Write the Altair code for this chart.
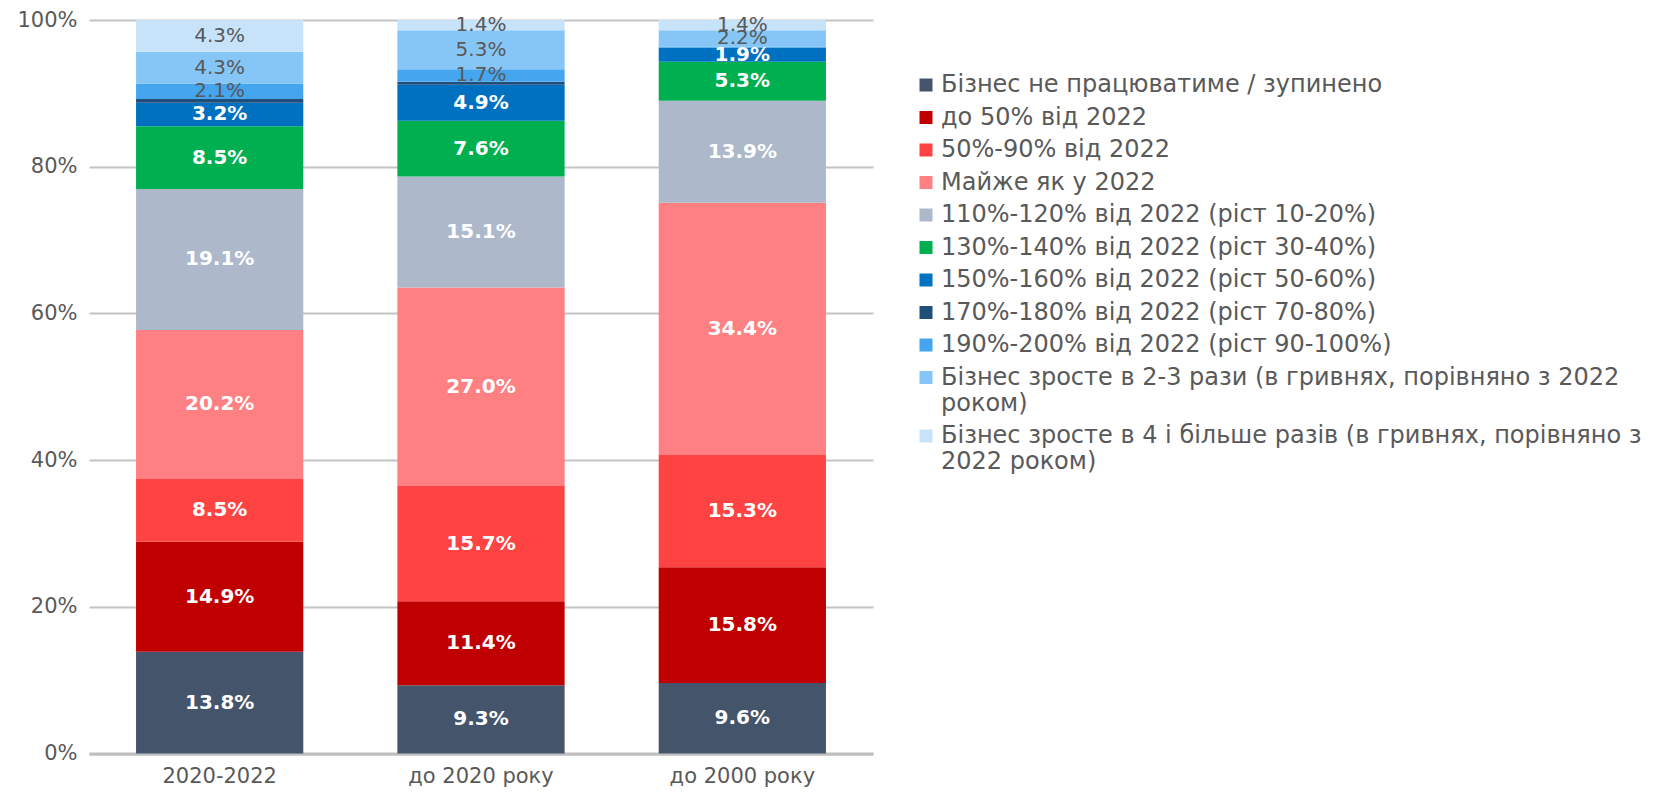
import altair as alt
import pandas as pd

bars = ["2020-2022", "до 2020 року", "до 2000 року"]
categories = [
    "Бізнес не працюватиме / зупинено",
    "до 50% від 2022",
    "50%-90% від 2022",
    "Майже як у 2022",
    "110%-120% від 2022 (ріст 10-20%)",
    "130%-140% від 2022 (ріст 30-40%)",
    "150%-160% від 2022 (ріст 50-60%)",
    "170%-180% від 2022 (ріст 70-80%)",
    "190%-200% від 2022 (ріст 90-100%)",
    "Бізнес зросте в 2-3 рази (в гривнях, порівняно з 2022\nроком)",
    "Бізнес зросте  в 4 і більше разів (в гривнях, порівняно з\n2022 роком)",
]
colors = [
    "#44546a", "#c00000", "#ff4343", "#ff8082", "#adb9ca", "#00b050",
    "#0070c0", "#1f4e79", "#45a6ef", "#86c6f6", "#c6e3fa",
]
values_2020_2022 = [13.8, 14.9, 8.5, 20.2, 19.1, 8.5, 3.2, 0.5, 2.1, 4.3, 4.3]
values_do_2020 = [9.3, 11.4, 15.7, 27.0, 15.1, 7.6, 4.9, 0.4, 1.7, 5.3, 1.4]
values_do_2000 = [9.6, 15.8, 15.3, 34.4, 13.9, 5.3, 1.9, 0.0, 0.2, 2.2, 1.4]

rows = []
for b, vals in zip(bars, [values_2020_2022, values_do_2020, values_do_2000]):
    for i, (c, v) in enumerate(zip(categories, vals)):
        rows.append({"bar": b, "cat": c, "idx": i, "value": v})
df = pd.DataFrame(rows)

FONT = "DejaVu Sans"
GRAY = "#595959"

base = alt.Chart(df).transform_stack(
    stack="value",
    groupby=["bar"],
    as_=["y0", "y1"],
    sort=[alt.SortField("idx", order="ascending")],
    offset="normalize",
).transform_calculate(
    mid="(datum.y0 + datum.y1) / 2",
    label="format(datum.value, '.1f') + '%'",
)

x_enc = alt.X(
    "bar:N",
    sort=bars,
    scale=alt.Scale(paddingInner=0.36, paddingOuter=0.18),
    axis=alt.Axis(
        title=None, labelAngle=0, labelFont=FONT, labelFontSize=21,
        labelColor=GRAY, ticks=False, domain=True, domainColor="#bfbfbf",
        domainWidth=3, labelPadding=12, grid=False,
    ),
)

bar_layer = base.mark_bar().encode(
    x=x_enc,
    y=alt.Y(
        "y0:Q",
        scale=alt.Scale(domain=[0, 1]),
        axis=alt.Axis(
            title=None, format=".0%", values=[0, 0.2, 0.4, 0.6, 0.8, 1.0],
            labelFont=FONT, labelFontSize=21, labelColor=GRAY, ticks=False,
            domain=False, gridColor="#c4c4c4", gridWidth=2, labelPadding=12,
        ),
    ),
    y2="y1:Q",
    color=alt.Color(
        "cat:N",
        scale=alt.Scale(domain=categories, range=colors),
        legend=alt.Legend(
            title=None, orient="none", legendX=825, legendY=53,
            labelExpr="split(datum.label, '\\n')",
            labelFont=FONT, labelFontSize=24, labelColor=GRAY,
            labelLimit=1000, symbolType="square", symbolSize=169,
            symbolStrokeWidth=0, rowPadding=8.5, labelOffset=3, padding=0,
        ),
    ),
)

white_labels = base.transform_filter("datum.idx < 8 && datum.value >= 1").mark_text(
    font=FONT, fontSize=20, fontWeight="bold", color="white"
).encode(x=alt.X("bar:N", sort=bars), y="mid:Q", text="label:N")

gray_labels = base.transform_filter("datum.idx >= 8 && datum.value >= 1").mark_text(
    font=FONT, fontSize=20, color=GRAY
).encode(x=alt.X("bar:N", sort=bars), y="mid:Q", text="label:N")

chart = alt.layer(bar_layer, white_labels, gray_labels).properties(
    width=784,
    height=733.5,
    autosize=alt.AutoSizeParams(type="none"),
    padding={"left": 81, "top": 12, "right": 789, "bottom": 36},
).configure_view(stroke=None)

chart.save("out.html", embed_options={"renderer": "svg", "actions": False})
